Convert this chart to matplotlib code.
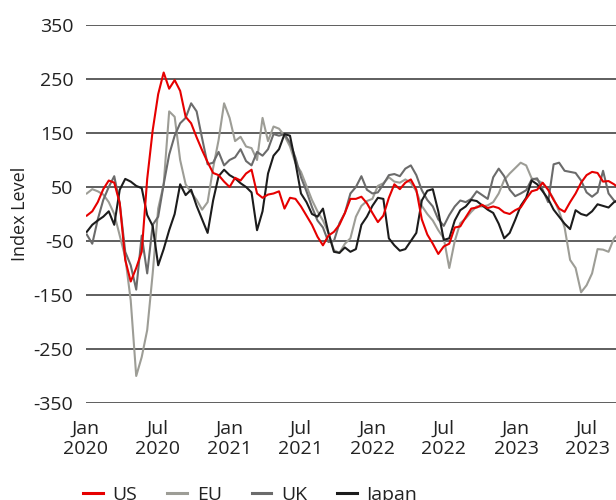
import matplotlib
matplotlib.use("Agg")
import matplotlib.pyplot as plt
from matplotlib.lines import Line2D
import pandas as pd

plt.rcParams['font.family'] = ['Open Sans', 'DejaVu Sans']
plt.rcParams['axes.unicode_minus'] = False

# fortnightly observations, Jan 2020 - Sep 2023
dates = pd.date_range('2020-01-03', periods=98, freq='14D')

us = [-3, 5, 22, 46, 62, 58, 20, -85, -125, -100,
      -70, 65, 155, 222, 262, 232, 248, 228, 180, 168,
      142, 118, 96, 76, 72, 60, 50, 67, 62, 75,
      82, 38, 30, 36, 38, 42, 10, 30, 28, 14,
      -3, -20, -42, -58, -40, -33, -20, 2, 28, 28,
      32, 20, 2, -15, -3, 30, 55, 46, 58, 64,
      45, -10, -38, -55, -74, -60, -55, -25, -23, -6,
      10, 12, 17, 11, 14, 11, 3, 0, 7, 12,
      28, 42, 45, 58, 45, 26, 10, 4, 22, 38,
      58, 72, 78, 76, 60, 61, 55, 47]

eu = [38, 46, 42, 36, 22, 0, -40, -80, -160, -300,
      -265, -215, -110, 10, 55, 190, 180, 100, 55, 40,
      26, 8, 22, 85, 137, 205, 178, 135, 143, 125,
      122, 100, 178, 135, 162, 158, 145, 125, 94, 78,
      52, 26, 5, -12, -35, -67, -72, -55, -45, -5,
      15, 24, 28, 52, 57, 68, 60, 58, 64, 58,
      42, 15, 0, -12, -30, -45, -100, -50, -17, -8,
      4, 14, 14, 16, 22, 38, 63, 75, 85, 95,
      90, 66, 63, 57, 45, 28, 5, -25, -85, -100,
      -145, -132, -110, -65, -66, -70, -45, -35]

uk = [-38, -55, -10, 26, 50, 70, 20, -70, -95, -140,
      -40, -110, -20, -5, 55, 110, 145, 168, 178, 205,
      190, 140, 92, 95, 115, 90, 100, 105, 120, 98,
      90, 115, 108, 120, 148, 145, 148, 132, 104, 68,
      42, 13, -12, -25, -52, -50, -17, 2, 38, 50,
      70, 45, 38, 40, 55, 72, 74, 70, 84, 90,
      72, 44, 26, 14, -10, -22, -2, 14, 25, 22,
      28, 42, 35, 28, 68, 84, 70, 45, 33, 38,
      44, 64, 66, 45, 22, 92, 95, 80, 78, 76,
      62, 40, 32, 40, 80, 38, 25, 20]

japan = [-33, -20, -12, -5, 5, -20, 45, 65, 60, 52,
         48, -2, -22, -95, -65, -30, 0, 55, 35, 45,
         15, -10, -35, 25, 70, 82, 72, 66, 57, 50,
         40, -30, 5, 75, 108, 120, 148, 145, 95, 38,
         22, 0, -5, 10, -35, -70, -72, -62, -70, -65,
         -20, -5, 15, 30, 28, -45, -58, -68, -65, -50,
         -35, 25, 43, 46, 5, -48, -45, -12, 7, 14,
         26, 24, 16, 8, 2, -18, -45, -35, -11, 15,
         30, 62, 55, 42, 28, 8, -5, -18, -28, 7,
         0, -3, 5, 18, 15, 12, 22, 26]

series = ['US', 'EU', 'UK', 'Japan']
colors = {'US': '#e60000', 'EU': '#9d9d96', 'UK': '#6b6b6b', 'Japan': '#1c1c1c'}
yticks = [350, 250, 150, 50, -50, -150, -250, -350]

fig = plt.figure(figsize=(6.16, 5.0), dpi=100)
ax = fig.add_axes([86/616, 97/500, 530/616, 378/500])

# grid lines
for y in yticks:
    ax.axhline(y, color='#333333', lw=1.1, zorder=1)

ax.plot(dates, eu, color=colors['EU'], lw=1.5, zorder=2)
ax.plot(dates, uk, color=colors['UK'], lw=1.5, zorder=3)
ax.plot(dates, japan, color=colors['Japan'], lw=1.5, zorder=4)
ax.plot(dates, us, color=colors['US'], lw=1.5, zorder=5)

ax.set_ylim(-350, 350)
ax.set_yticks(yticks)
ax.set_xlim(pd.Timestamp('2020-01-01'), pd.Timestamp('2023-09-13'))
xt = pd.to_datetime(['2020-01-01', '2020-07-01', '2021-01-01', '2021-07-01',
                     '2022-01-01', '2022-07-01', '2023-01-01', '2023-07-01'])
ax.set_xticks(xt)
ax.set_xticklabels([d.strftime('%b') + '\n' + d.strftime('%Y') for d in xt])

for s in ax.spines.values():
    s.set_visible(False)
ax.tick_params(axis='both', length=0, labelsize=14, colors='#222222')
ax.tick_params(axis='y', pad=9)
ax.tick_params(axis='x', pad=12)
ax.set_ylabel('Index Level', fontsize=13, color='#222222', va='center')
ax.yaxis.set_label_coords(-0.125, 0.5)

handles = [Line2D([0], [0], color=colors[s], lw=2.2) for s in series]
fig.legend(handles, series, loc='upper left', bbox_to_anchor=(0.107, 1 - 468/500),
           ncol=4, frameon=False, fontsize=14, handlelength=1.0,
           handletextpad=0.5, columnspacing=1.55, labelcolor='#222222')

fig.savefig('out.png', dpi=100)
